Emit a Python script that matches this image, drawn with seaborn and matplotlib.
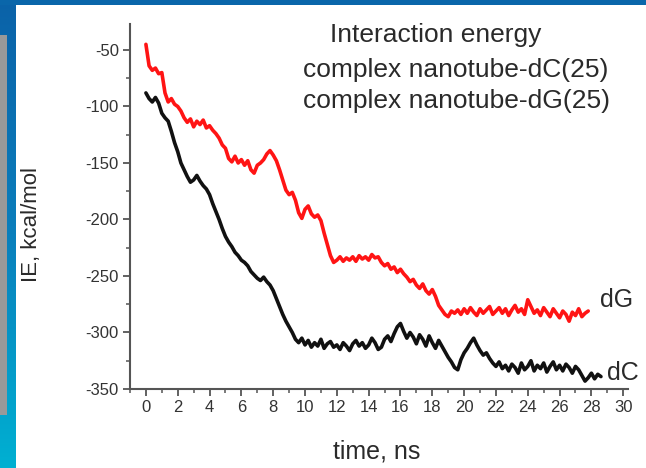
import numpy as np
import pandas as pd
import matplotlib
matplotlib.use("Agg")
import matplotlib.pyplot as plt
from matplotlib.patches import Rectangle
from matplotlib.ticker import MultipleLocator
import seaborn as sns

########################################################
                    #DATA
########################################################

step = 0.2  # ns between read-off points

#interaction energy, complex nanotube-dG(25), kcal/mol
ie_dg = [
    -45, -64, -68, -66, -71, -70, -88, -96, -93, -98,
    -100, -104, -110, -114, -111, -118, -113, -116, -112, -119,
    -117, -121, -124, -128, -134, -137, -146, -149, -144, -150,
    -147, -152, -148, -156, -159, -152, -150, -147, -142, -139,
    -143, -148, -156, -165, -174, -178, -176, -183, -194, -199,
    -191, -188, -195, -198, -196, -201, -212, -222, -232, -238,
    -236, -233, -237, -234, -236, -233, -237, -232, -235, -233,
    -236, -231, -234, -233, -238, -241, -239, -244, -242, -247,
    -244, -248, -251, -255, -253, -258, -261, -257, -263, -266,
    -262, -268, -276, -280, -284, -286, -281, -283, -280, -284,
    -279, -283, -278, -282, -285, -279, -283, -280, -277, -284,
    -281, -278, -283, -279, -285, -280, -276, -282, -279, -284,
    -271, -277, -283, -280, -285, -278, -282, -286, -279, -283,
    -287, -281, -284, -290, -282, -285, -279, -286, -283, -281,
]

#interaction energy, complex nanotube-dC(25), kcal/mol
ie_dc = [
    -88, -93, -96, -92, -97, -106, -110, -113, -122, -132,
    -140, -150, -156, -162, -167, -165, -161, -166, -170, -173,
    -178, -186, -193, -200, -208, -215, -220, -224, -229, -232,
    -236, -238, -241, -246, -249, -252, -254, -251, -255, -258,
    -263, -270, -277, -284, -290, -295, -300, -306, -309, -305,
    -311, -307, -313, -309, -312, -306, -314, -310, -308, -313,
    -311, -315, -309, -312, -316, -310, -307, -312, -309, -314,
    -311, -305, -309, -315, -313, -306, -303, -308, -301, -295,
    -292, -299, -305, -300, -304, -310, -302, -306, -312, -303,
    -309, -314, -307, -312, -317, -322, -326, -331, -333, -324,
    -318, -314, -309, -305, -311, -316, -320, -318, -323, -327,
    -330, -326, -332, -329, -334, -328, -331, -336, -327, -333,
    -330, -325, -334, -329, -332, -327, -335, -330, -326, -333,
    -329, -334, -328, -331, -336, -330, -333, -338, -343, -340,
    -336, -341, -337, -339,
]

x_ticks = list(range(0, 31, 2))
y_ticks = [-350, -300, -250, -200, -150, -100, -50]

legend_title = "Interaction energy"
legend_lines = ["complex nanotube-dC(25)", "complex nanotube-dG(25)"]

df = pd.concat([
    pd.DataFrame({"time": np.round(np.arange(len(ie_dc)) * step, 1), "IE": ie_dc, "complex": "dC"}),
    pd.DataFrame({"time": np.round(np.arange(len(ie_dg)) * step, 1), "IE": ie_dg, "complex": "dG"}),
])

########################################################
                    #FIGURE
########################################################

sns.set_theme(style="ticks")
plt.rcParams["font.family"] = ["Liberation Sans", "DejaVu Sans"]
plt.rcParams["axes.unicode_minus"] = False

W, H = 646, 468
fig = plt.figure(figsize=(W / 100, H / 100), dpi=100)
fig.patch.set_facecolor("white")

#slide decoration (blue frame, gray panel)
bg = fig.add_axes([0, 0, 1, 1])
bg.set_xlim(0, W)
bg.set_ylim(H, 0)
bg.axis("off")
grad = np.linspace(0, 1, 256).reshape(-1, 1)
cmap = matplotlib.colors.LinearSegmentedColormap.from_list("slide", ["#0a62a8", "#0a7fbc", "#00b0d2"])
bg.imshow(grad, cmap=cmap, extent=[0, 16, H, 0], aspect="auto")
bg.add_patch(Rectangle((0, 0), W, 5, color="#0a66aa", lw=0))
bg.add_patch(Rectangle((0, 35), 7, 380, color="#999999", lw=0))

ax = fig.add_axes([130 / W, 1 - 389 / H, 498 / W, 365 / H])
ax.patch.set_alpha(0)

sns.lineplot(data=df, x="time", y="IE", hue="complex",
             palette={"dC": "#111111", "dG": "#ff1414"},
             linewidth=2.6, legend=False, ax=ax, estimator=None, sort=False)

ax.set_xlim(-1, 30.3)
ax.set_ylim(-350, -27)
ax.set_xticks(x_ticks)
ax.set_yticks(y_ticks)
ax.xaxis.set_minor_locator(MultipleLocator(1))
ax.yaxis.set_minor_locator(MultipleLocator(25))
ax.set_xlabel("")
ax.set_ylabel("")

sns.despine(ax=ax)
for side in ["left", "bottom"]:
    ax.spines[side].set_color("#555555")
    ax.spines[side].set_linewidth(1.5)
ax.tick_params(which="major", direction="out", length=5, width=1.3, color="#555555",
               labelsize=12, labelcolor="#333333", pad=3)
ax.tick_params(which="minor", direction="out", length=3, width=1.1, color="#555555")

txt = "#2a2a2a"
fig.text(377 / W, 1 - 452 / H, "time, ns", ha="center", va="center", fontsize=18, color=txt)
fig.text(32 / W, 1 - 225 / H, "IE, kcal/mol", ha="center", va="center", rotation=90,
         fontsize=16, color=txt)

fig.text(330 / W, 1 - 42 / H, legend_title, ha="left", va="baseline", fontsize=19, color=txt)
fig.text(303 / W, 1 - 70 / H, legend_lines[0], ha="left", va="center", fontsize=19, color=txt)
fig.text(303 / W, 1 - 101 / H, legend_lines[1], ha="left", va="center", fontsize=19, color=txt)

ax.text(28.55, -271, "dG", ha="left", va="center", fontsize=18, color=txt, clip_on=False)
ax.text(28.95, -336, "dC", ha="left", va="center", fontsize=18, color=txt, clip_on=False)

fig.savefig("out.png", dpi=100)
